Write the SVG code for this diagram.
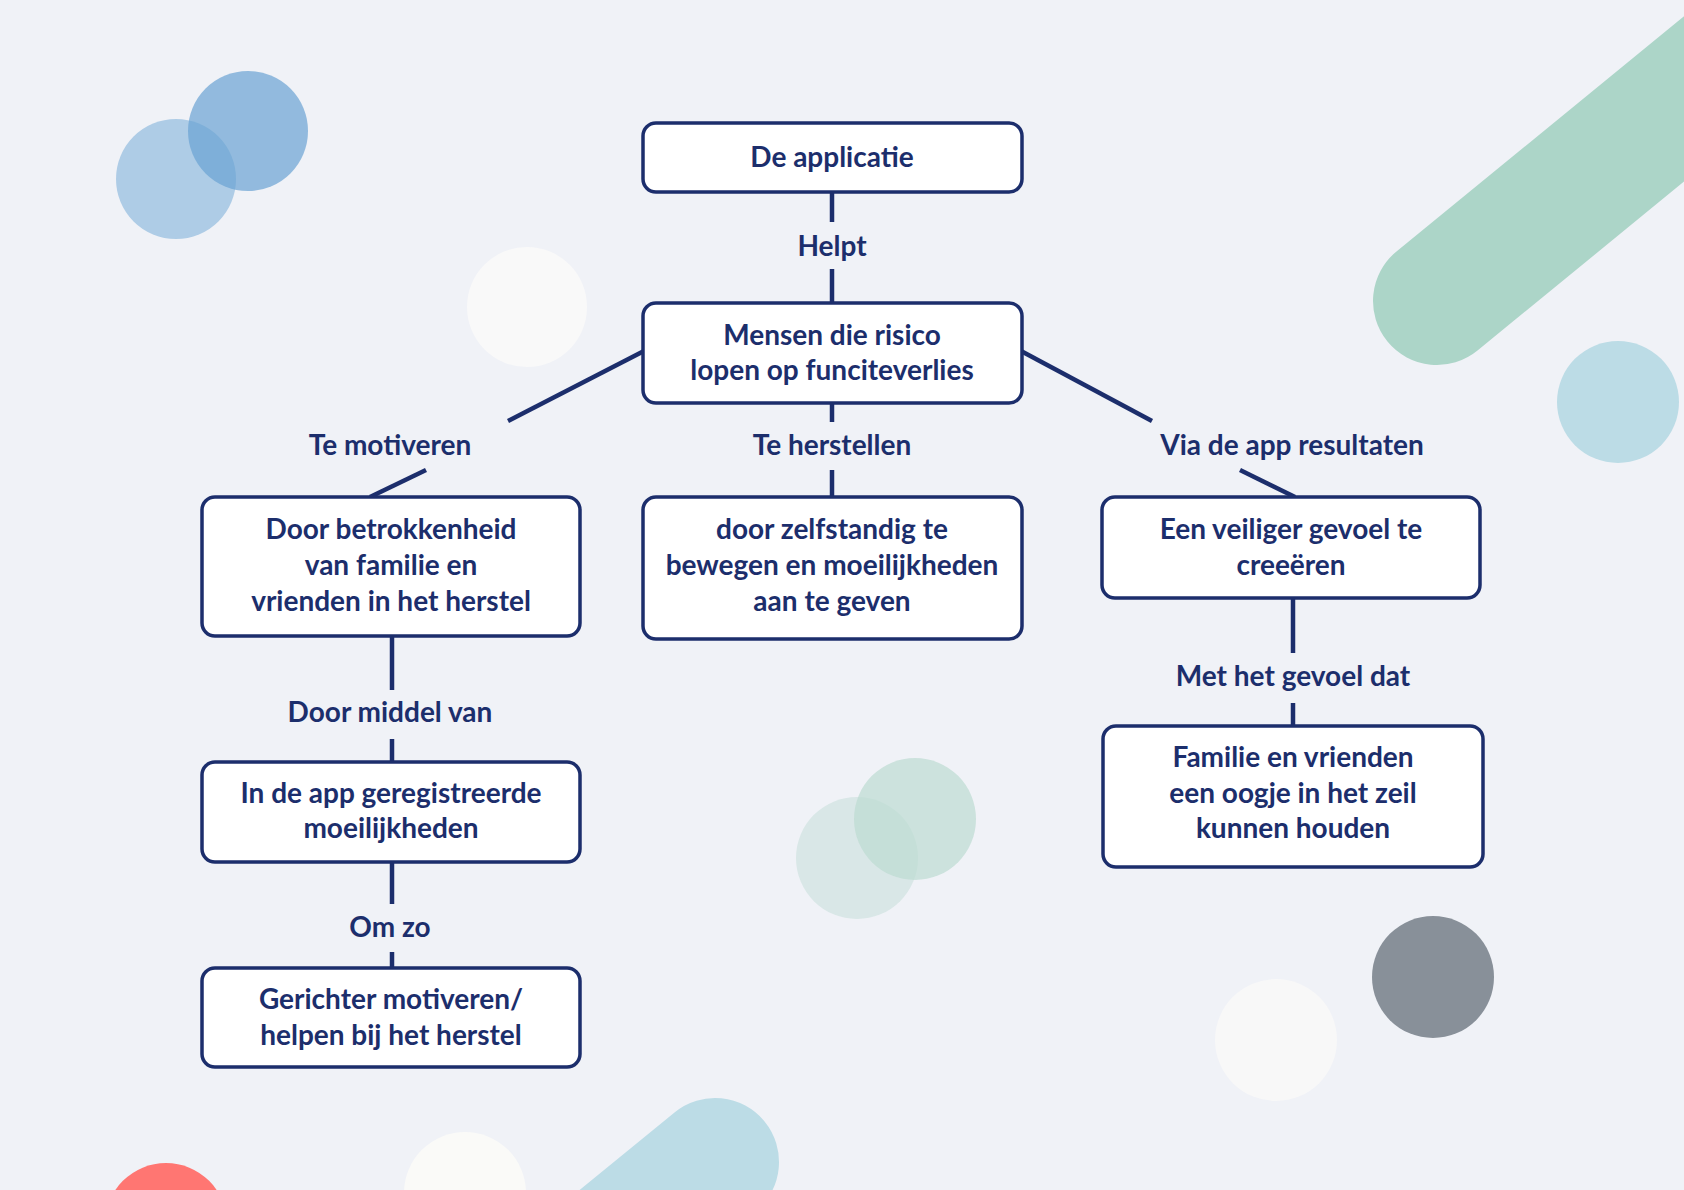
<svg xmlns="http://www.w3.org/2000/svg" width="1684" height="1190" viewBox="0 0 1684 1190">
<defs>
<style>
.bg{fill:#f0f2f7}
.box{fill:#ffffff;stroke:#1c2e6c;stroke-width:3.5}
.t{font-family:Lato,"Liberation Sans",sans-serif;font-weight:700;font-size:28px;fill:#1c2e6c;text-anchor:middle}
.c{stroke:#1c2e6c;stroke-width:4.5;fill:none}
</style>
</defs>
<rect class="bg" x="0" y="0" width="1684" height="1190"/>
<g id="decor">
<line x1="1437" y1="301" x2="1800" y2="4" stroke="#acd5c8" stroke-width="128" stroke-linecap="round"/>
<line x1="715" y1="1162" x2="480" y2="1354" stroke="#bcdce6" stroke-width="128" stroke-linecap="round"/>
<circle cx="176" cy="179" r="60" fill="#aecce6"/>
<circle cx="248" cy="131" r="60" fill="#6aa3d3" opacity="0.7"/>
<circle cx="527" cy="307" r="60" fill="#f9f9f9"/>
<circle cx="1618" cy="402" r="61" fill="#bcdce6"/>
<circle cx="857" cy="858" r="61" fill="#cfe2df" opacity="0.7"/>
<circle cx="915" cy="819" r="61" fill="#bcdcd2" opacity="0.7"/>
<circle cx="1276" cy="1040" r="61" fill="#f8f8f8"/>
<circle cx="1433" cy="977" r="61" fill="#889099"/>
<circle cx="166" cy="1224" r="61" fill="#ff7672"/>
<circle cx="465" cy="1193" r="61" fill="#fafaf8"/>
</g>
<g id="connectors">
<line class="c" x1="832" y1="192" x2="832" y2="222"/>
<line class="c" x1="832" y1="269" x2="832" y2="303"/>
<text class="t" x="832" y="256">Helpt</text>
<line class="c" x1="644" y1="351" x2="508" y2="421"/>
<line class="c" x1="426" y1="470" x2="370" y2="497"/>
<text class="t" x="390" y="455">Te motiveren</text>
<line class="c" x1="832" y1="403" x2="832" y2="422"/>
<line class="c" x1="832" y1="470" x2="832" y2="497"/>
<text class="t" x="832" y="455">Te herstellen</text>
<line class="c" x1="1021" y1="351" x2="1152" y2="421"/>
<line class="c" x1="1240" y1="470" x2="1295" y2="497"/>
<text class="t" x="1292" y="455">Via de app resultaten</text>
<line class="c" x1="392" y1="636" x2="392" y2="690"/>
<line class="c" x1="392" y1="739" x2="392" y2="762"/>
<text class="t" x="390" y="722">Door middel van</text>
<line class="c" x1="392" y1="862" x2="392" y2="904"/>
<line class="c" x1="392" y1="952" x2="392" y2="968"/>
<text class="t" x="390" y="937">Om zo</text>
<line class="c" x1="1293" y1="598" x2="1293" y2="653"/>
<line class="c" x1="1293" y1="703" x2="1293" y2="726"/>
<text class="t" x="1293" y="686">Met het gevoel dat</text>
</g>
<g id="n1"><rect class="box" x="643" y="123" width="379" height="69" rx="13"/><text class="t" x="832" y="167">De applicatie</text></g>
<g id="n2"><rect class="box" x="643" y="303" width="379" height="100" rx="13"/><text class="t" x="832" y="345">Mensen die risico</text><text class="t" x="832" y="380">lopen op funciteverlies</text></g>
<g id="n3"><rect class="box" x="202" y="497" width="378" height="139" rx="13"/><text class="t" x="391" y="539">Door betrokkenheid</text><text class="t" x="391" y="575">van familie en</text><text class="t" x="391" y="611">vrienden in het herstel</text></g>
<g id="n4"><rect class="box" x="643" y="497" width="379" height="142" rx="13"/><text class="t" x="832" y="539">door zelfstandig te</text><text class="t" x="832" y="575">bewegen en moeilijkheden</text><text class="t" x="832" y="611">aan te geven</text></g>
<g id="n5"><rect class="box" x="1102" y="497" width="378" height="101" rx="13"/><text class="t" x="1291" y="539">Een veiliger gevoel te</text><text class="t" x="1291" y="575">creeëren</text></g>
<g id="n6"><rect class="box" x="202" y="762" width="378" height="100" rx="13"/><text class="t" x="391" y="803">In de app geregistreerde</text><text class="t" x="391" y="838">moeilijkheden</text></g>
<g id="n7"><rect class="box" x="202" y="968" width="378" height="99" rx="13"/><text class="t" x="391" y="1009">Gerichter motiveren/</text><text class="t" x="391" y="1045">helpen bij het herstel</text></g>
<g id="n8"><rect class="box" x="1103" y="726" width="380" height="141" rx="13"/><text class="t" x="1293" y="767">Familie en vrienden</text><text class="t" x="1293" y="803">een oogje in het zeil</text><text class="t" x="1293" y="838">kunnen houden</text></g>
</svg>
